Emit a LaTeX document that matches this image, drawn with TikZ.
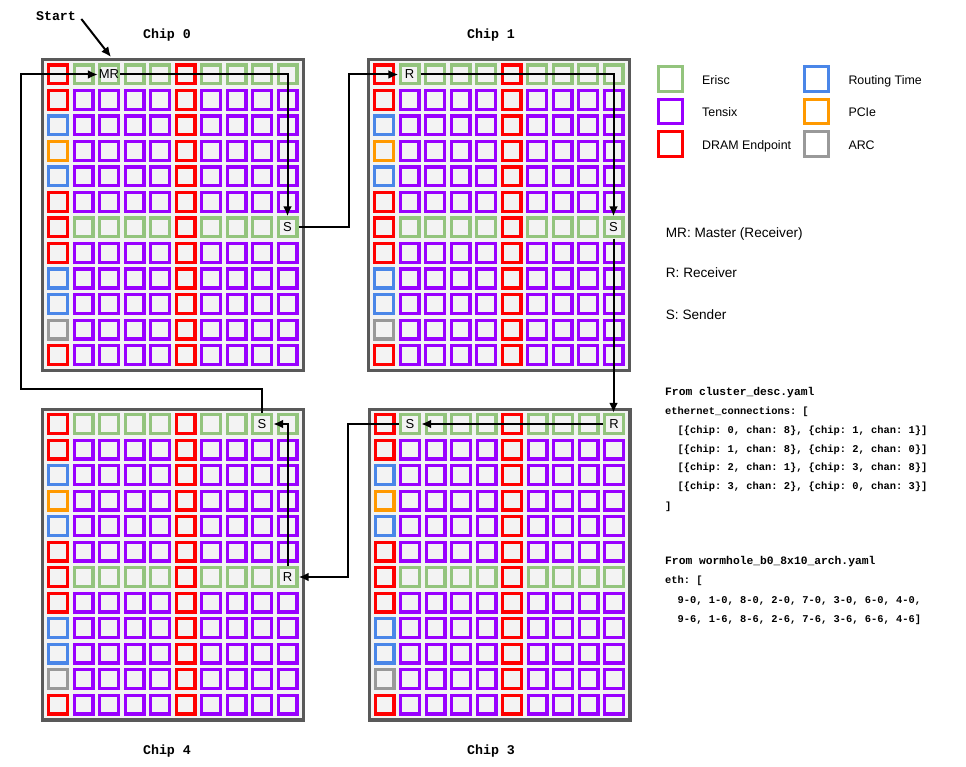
\documentclass[tikz,border=0pt]{standalone}
\usepackage{fontspec}
\setmainfont{Liberation Sans}
\setmonofont{Liberation Mono}
\usetikzlibrary{calc,arrows.meta}

\definecolor{erisc}{HTML}{93C47D}
\definecolor{tensix}{HTML}{9900FF}
\definecolor{dram}{HTML}{FF0000}
\definecolor{routing}{HTML}{4A86E8}
\definecolor{pcie}{HTML}{FF9900}
\definecolor{arc}{HTML}{999999}
\definecolor{chipfill}{HTML}{F3F3F3}
\definecolor{chipedge}{HTML}{595959}

\begin{document}
\begin{tikzpicture}[x=1pt,y=-1pt,>={Latex[length=10pt,width=9pt]},
  chipframe/.style={draw=chipedge,fill=chipfill,line width=3.2pt},
  core/.style={draw=#1,fill=chipfill,line width=3.2pt},
  legbox/.style={draw=#1,line width=3.2pt,minimum size=24.4pt,inner sep=0pt},
  tag/.style={minimum size=22pt,inner sep=0pt,font=\fontsize{13}{15}\selectfont},
  flow/.style={->,line width=2pt},
  chiplab/.style={anchor=base,font=\fontsize{13.3}{15}\selectfont\ttfamily\bfseries},
  legtext/.style={anchor=base west,inner sep=0pt,font=\fontsize{12.4}{14}\selectfont},
  roletext/.style={anchor=base west,inner sep=0pt,font=\fontsize{13.6}{15}\selectfont},
  yamlhead/.style={anchor=base west,inner sep=0pt,font=\fontsize{11.3}{13}\selectfont\ttfamily\bfseries},
  yamlline/.style={anchor=base west,inner sep=0pt,font=\fontsize{10.4}{12}\selectfont\ttfamily\bfseries}]
\useasboundingbox (0,0) rectangle (966,767);
%%%% Chips 0, 1, 4, 3
\foreach \ox/\oy in {41/58,367/58,41/407.5,367.5/407.5}{
  \draw[chipframe] (\ox+1.6,\oy+1.6) rectangle ++(260.8,310.8);
  \foreach \kind [count=\r from 0] in {dram,dram,routing,pcie,routing,dram,dram,dram,routing,routing,arc,dram}{
    \foreach \i in {0,...,9}{
      \ifnum\i=0 \edef\cellcol{\kind}\else
      \ifnum\i=5 \def\cellcol{dram}\else
      \ifnum\r=0 \def\cellcol{erisc}\else
      \ifnum\r=6 \def\cellcol{erisc}\else
      \def\cellcol{tensix}\fi\fi\fi\fi
      \draw[core=\cellcol] (\ox+7.6+25.5*\i,\oy+7.1+25.5*\r) rectangle ++(18.8,18.8);
    }
  }
}
\node[chiplab] (chip0) at (167,39) {Chip 0};
\node[chiplab] (chip1) at (491,39) {Chip 1};
\node[chiplab] (chip4) at (167,754.5) {Chip 4};
\node[chiplab] (chip3) at (491,754.5) {Chip 3};
%
\node[tag] (mr0) at (109,74.5) {MR};
\node[tag] (s0) at (287.5,227.5) {S};
\node[tag] (r1) at (409.5,74.5) {R};
\node[tag] (s1) at (613.5,227.5) {S};
\node[tag] (r3) at (614,424) {R};
\node[tag] (s3) at (410,424) {S};
\node[tag] (s4) at (262,424) {S};
\node[tag] (r4) at (287.5,577) {R};
%%%Ring
\node[chiplab] (start) at (56,21) {Start};
\coordinate (entry) at (111,57);
\draw[flow,shorten <=3pt] (start.east) -- (entry);
\draw[flow] (mr0.east) -| (s0.north);
\draw[flow] (s0.east) -- ++(50.5,0) |- (r1.west);
\draw[flow] (r1.east) -| (s1.north);
\draw[flow] (s1.south) -- (s1.south |- r3.north);
\draw[flow] (r3.west) -- (s3.east);
\draw[flow] (s3.west) -- ++(-50.7,0) |- (r4.east);
\draw[flow] (r4.north) |- (s4.east);
\coordinate (back) at (21,389);
\draw[flow] (s4.north) |- (back) |- (mr0.west);
%%%Legend
\foreach \kind/\txt [count=\k from 0] in {erisc/Erisc,tensix/Tensix,dram/DRAM Endpoint}{
  \node[legbox=\kind] (keyl\k) at (670.5,79+32.5*\k) {};
  \node[legtext] (keyltxt\k) at (702,84.5+32.5*\k) {\txt};
}
\foreach \kind/\txt [count=\k from 0] in {routing/Routing Time,pcie/PCIe,arc/ARC}{
  \node[legbox=\kind] (keyr\k) at (816.4,79+32.5*\k) {};
  \node[legtext] (keyrtxt\k) at (848.3,84.5+32.5*\k) {\txt};
}
\node[roletext] (rolemr) at (665.7,238) {MR: Master (Receiver)};
\node[roletext] (roler) at (665.7,278) {R: Receiver};
\node[roletext] (roles) at (665.7,319) {S: Sender};
%%%Config
\node[yamlhead] (cfg0) at (665,395) {From cluster\_desc.yaml};
\node[yamlline] (cfg1) at (665,414.5) {ethernet\_connections: [};
\node[yamlline] (cfg2) at (665,433.5) {\ \ [\{chip: 0, chan: 8\}, \{chip: 1, chan: 1\}]};
\node[yamlline] (cfg3) at (665,452) {\ \ [\{chip: 1, chan: 8\}, \{chip: 2, chan: 0\}]};
\node[yamlline] (cfg4) at (665,470.5) {\ \ [\{chip: 2, chan: 1\}, \{chip: 3, chan: 8\}]};
\node[yamlline] (cfg5) at (665,489.5) {\ \ [\{chip: 3, chan: 2\}, \{chip: 0, chan: 3\}]};
\node[yamlline] (cfg6) at (665,509.5) {]};
\node[yamlhead] (arch0) at (665,564) {From wormhole\_b0\_8x10\_arch.yaml};
\node[yamlline] (arch1) at (665,583.5) {eth: [};
\node[yamlline] (arch2) at (665,603.5) {\ \ 9-0, 1-0, 8-0, 2-0, 7-0, 3-0, 6-0, 4-0,};
\node[yamlline] (arch3) at (665,622.5) {\ \ 9-6, 1-6, 8-6, 2-6, 7-6, 3-6, 6-6, 4-6]};
\end{tikzpicture}
\end{document}
